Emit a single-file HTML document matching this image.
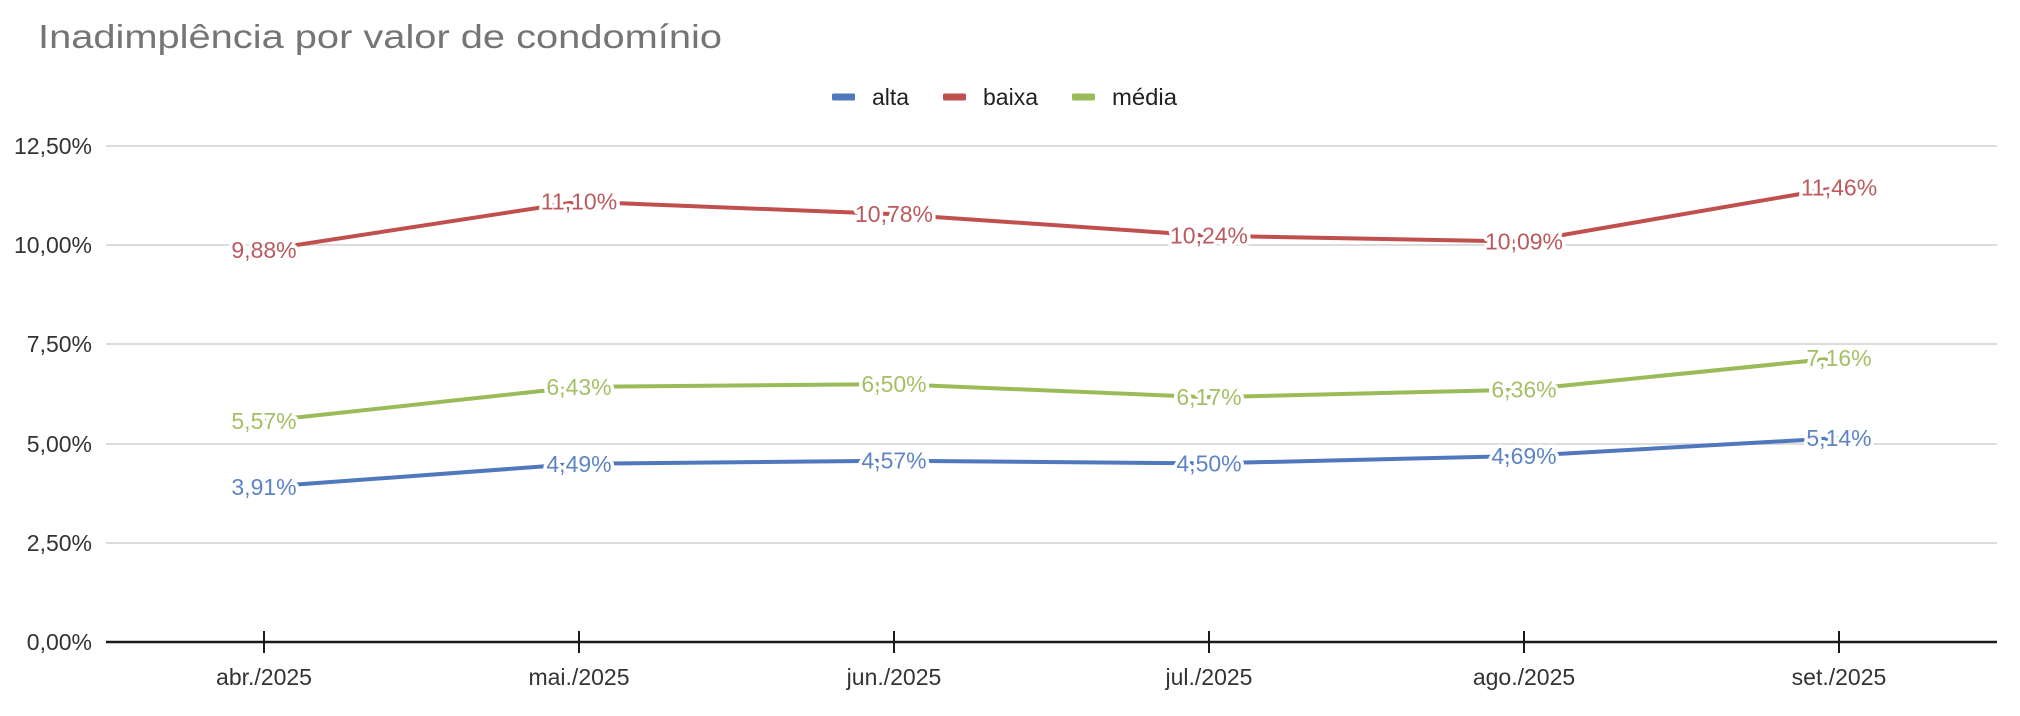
<!DOCTYPE html>
<html>
<head>
<meta charset="utf-8">
<style>
  html, body { margin: 0; padding: 0; background: #ffffff; }
  svg { display: block; }
  text { font-family: "Liberation Sans", Arial, sans-serif; }
</style>
</head>
<body>
<svg width="2020" height="716" viewBox="0 0 2020 716" xmlns="http://www.w3.org/2000/svg">
  <rect x="0" y="0" width="2020" height="716" fill="#ffffff"/>

  <!-- Title -->
  <text x="38" y="48" font-size="33" fill="#757575" textLength="684" lengthAdjust="spacingAndGlyphs">Inadimplência por valor de condomínio</text>

  <!-- Legend -->
  <rect x="832" y="93.5" width="23" height="7" rx="1.5" fill="#4f78bd"/>
  <text x="872" y="105" font-size="23" fill="#222222" textLength="37" lengthAdjust="spacingAndGlyphs">alta</text>
  <rect x="943" y="93.5" width="23" height="7" rx="1.5" fill="#c0504d"/>
  <text x="983" y="105" font-size="23" fill="#222222" textLength="55" lengthAdjust="spacingAndGlyphs">baixa</text>
  <rect x="1072" y="93.5" width="23" height="7" rx="1.5" fill="#9bbb59"/>
  <text x="1112" y="105" font-size="23" fill="#222222" textLength="65" lengthAdjust="spacingAndGlyphs">média</text>

  <!-- Gridlines -->
  <g stroke="#dcdcdc" stroke-width="2">
    <line x1="106" y1="146" x2="1997" y2="146"/>
    <line x1="106" y1="245" x2="1997" y2="245"/>
    <line x1="106" y1="344" x2="1997" y2="344"/>
    <line x1="106" y1="444" x2="1997" y2="444"/>
    <line x1="106" y1="543" x2="1997" y2="543"/>
  </g>

  <!-- Y labels -->
  <g font-size="23" fill="#333333" text-anchor="end">
    <text x="92" y="154">12,50%</text>
    <text x="92" y="253">10,00%</text>
    <text x="92" y="352">7,50%</text>
    <text x="92" y="452">5,00%</text>
    <text x="92" y="551">2,50%</text>
    <text x="92" y="650">0,00%</text>
  </g>

  <!-- X axis -->
  <line x1="106" y1="642" x2="1997" y2="642" stroke="#1a1a1a" stroke-width="2.5"/>
  <g stroke="#1a1a1a" stroke-width="2">
    <line x1="264" y1="631" x2="264" y2="653"/>
    <line x1="579" y1="631" x2="579" y2="653"/>
    <line x1="894" y1="631" x2="894" y2="653"/>
    <line x1="1209" y1="631" x2="1209" y2="653"/>
    <line x1="1524" y1="631" x2="1524" y2="653"/>
    <line x1="1839" y1="631" x2="1839" y2="653"/>
  </g>
  <g font-size="23" fill="#333333" text-anchor="middle">
    <text x="264" y="685">abr./2025</text>
    <text x="579" y="685">mai./2025</text>
    <text x="894" y="685">jun./2025</text>
    <text x="1209" y="685">jul./2025</text>
    <text x="1524" y="685">ago./2025</text>
    <text x="1839" y="685">set./2025</text>
  </g>

  <!-- Series lines -->
  <g fill="none" stroke-width="4" stroke-linejoin="round" stroke-linecap="round">
    <polyline stroke="#c0504d" points="264,250 579,201.6 894,214.2 1209,235.7 1524,241.6 1839,187.3"/>
    <polyline stroke="#9bbb59" points="264,421 579,386.9 894,384.1 1209,397.2 1524,389.6 1839,357.9"/>
    <polyline stroke="#4f78bd" points="264,486.9 579,463.8 894,460.7 1209,463.4 1524,455.9 1839,438"/>
  </g>

  <!-- Data labels -->
  <g font-size="23" text-anchor="middle" stroke="#ffffff" stroke-width="7" paint-order="stroke" stroke-linejoin="round">
    <g fill="#bb5a5d">
      <text x="264" y="258">9,88%</text>
      <text x="579" y="209.6">11,10%</text>
      <text x="894" y="222.2">10,78%</text>
      <text x="1209" y="243.7">10,24%</text>
      <text x="1524" y="249.6">10,09%</text>
      <text x="1839" y="195.3">11,46%</text>
    </g>
    <g fill="#a4c066">
      <text x="264" y="429">5,57%</text>
      <text x="579" y="394.9">6,43%</text>
      <text x="894" y="392.1">6,50%</text>
      <text x="1209" y="405.2">6,17%</text>
      <text x="1524" y="397.6">6,36%</text>
      <text x="1839" y="365.9">7,16%</text>
    </g>
    <g fill="#5d84c4">
      <text x="264" y="494.9">3,91%</text>
      <text x="579" y="471.8">4,49%</text>
      <text x="894" y="468.7">4,57%</text>
      <text x="1209" y="471.4">4,50%</text>
      <text x="1524" y="463.9">4,69%</text>
      <text x="1839" y="446">5,14%</text>
    </g>
  </g>
</svg>
</body>
</html>
